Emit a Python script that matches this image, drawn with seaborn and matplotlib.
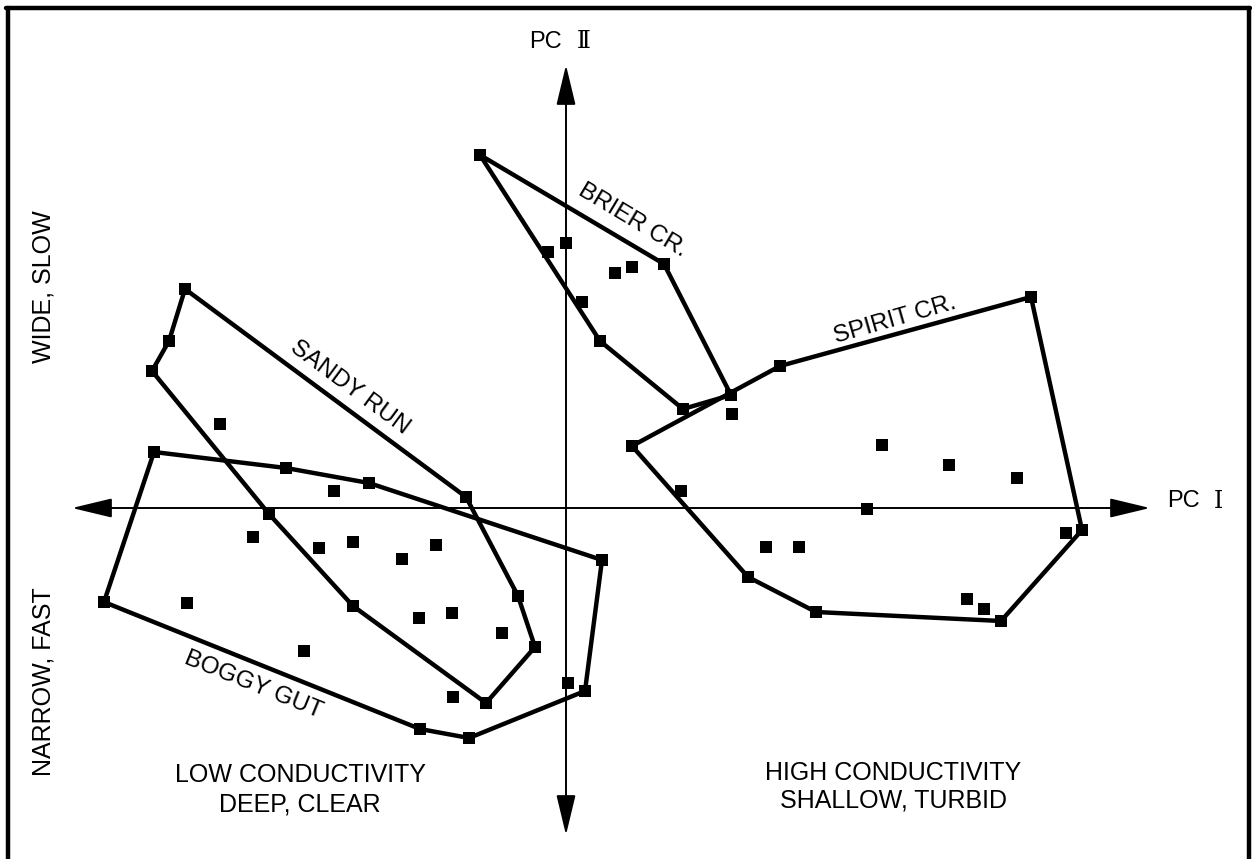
import numpy as np
import pandas as pd
import seaborn as sns
import matplotlib.pyplot as plt
from matplotlib.lines import Line2D

# PCA scores (PC I, PC II)
brier_x = [-0.86, -0.18, 0.00, 0.16, 0.34, 0.49, 0.66, 0.98, 1.17, 1.65]
brier_y = [3.53, 2.56, 2.65, 2.06, 1.67, 2.35, 2.41, 2.44, 0.99, 1.13]
brier_hull = [0, 7, 9, 8, 4]

spirit_x = [0.66, 2.14, 4.65, 1.66, 3.16, 3.83, 4.51, 1.15, 3.01, 5.16, 5.00, 2.00, 2.33, 1.82, 2.50, 4.01, 4.18, 4.35]
spirit_y = [0.62, 1.42, 2.11, 0.94, 0.63, 0.43, 0.30, 0.17, -0.01, -0.22, -0.25, -0.39, -0.39, -0.69, -1.04, -0.91, -1.01, -1.13]
spirit_hull = [0, 1, 2, 9, 17, 14, 13]

sandy_x = [-3.81, -3.97, -4.14, -3.46, -1.00, -2.97, -2.13, -0.48, -0.31, -0.80, -2.32, -2.47, -2.13, -1.30, -1.14, -0.64]
sandy_y = [2.19, 1.67, 1.37, 0.84, 0.11, -0.06, -0.98, -0.88, -1.39, -1.95, 0.17, -0.40, -0.34, -0.37, -1.05, -1.25]
sandy_hull = [0, 4, 7, 8, 9, 6, 5, 2, 1]

boggy_x = [-4.12, -2.80, -1.97, 0.36, 0.19, -0.97, -1.46, -4.62, -3.79, -2.62, -3.13, -1.13, 0.02, -1.64, -1.47]
boggy_y = [0.56, 0.40, 0.25, -0.52, -1.83, -2.30, -2.21, -0.94, -0.95, -1.43, -0.29, -1.89, -1.75, -0.51, -1.10]
boggy_hull = [0, 1, 2, 3, 4, 5, 6, 7]

creeks = {
    "BRIER CR.": (brier_x, brier_y, brier_hull),
    "SPIRIT CR.": (spirit_x, spirit_y, spirit_hull),
    "SANDY RUN": (sandy_x, sandy_y, sandy_hull),
    "BOGGY GUT": (boggy_x, boggy_y, boggy_hull),
}
# label placement (x, y, rotation)
label_pos = {
    "BRIER CR.": (0.67, 2.88, -31),
    "SPIRIT CR.": (3.29, 1.88, 16),
    "SANDY RUN": (-2.16, 1.20, -36.5),
    "BOGGY GUT": (-3.13, -1.77, -22),
}

sns.set_style("white")
plt.rcParams['font.family'] = ['Liberation Sans', 'DejaVu Sans']
plt.rcParams['text.color'] = 'black'

fig = plt.figure(figsize=(12.52, 8.59), dpi=100)
ax = fig.add_axes([0, 0, 1, 1])
ax.set_xlim(-5.66, 6.86)
ax.set_ylim(-3.51, 5.08)
ax.set_aspect('equal')
ax.axis('off')

# PC axes with arrows
arrow = dict(arrowstyle='<|-|>,head_length=1.25,head_width=0.3', color='black', lw=1.4,
             mutation_scale=20, shrinkA=0, shrinkB=0)
ax.annotate('', xy=(-4.94, 0.0), xytext=(5.84, 0.0), arrowprops=arrow)
ax.annotate('', xy=(0.0, 4.43), xytext=(0.0, -3.27), arrowprops=arrow)

for name, (xs, ys, hull) in creeks.items():
    df = pd.DataFrame({'pc1': xs, 'pc2': ys})
    ring = df.iloc[hull + [hull[0]]].reset_index(drop=True)
    sns.lineplot(data=ring, x='pc1', y='pc2', sort=False, estimator=None,
                 color='black', lw=3.2, ax=ax)
    sns.scatterplot(data=df, x='pc1', y='pc2', marker='s', s=85, color='black',
                    edgecolor='black', linewidth=0, ax=ax, zorder=5)
    lx, ly, rot = label_pos[name]
    ax.text(lx, ly, name, rotation=rot, rotation_mode='anchor', ha='center',
            va='center', fontsize=17.5)

ax.set_xlabel('')
ax.set_ylabel('')

# axis names: "PC" plus a serifed roman numeral
ax.text(-0.04, 4.66, 'PC', ha='right', va='center', fontsize=17)
ax.text(0.18, 4.66, 'Ⅱ', ha='center', va='center', fontsize=17, family='DejaVu Serif')
ax.text(6.01, 0.07, 'PC', ha='left', va='center', fontsize=17)
ax.text(6.52, 0.07, 'Ⅰ', ha='center', va='center', fontsize=17, family='DejaVu Serif')

ax.text(-5.23, 2.21, 'WIDE, SLOW', rotation=90, ha='center', va='center', fontsize=18)
ax.text(-5.23, -1.74, 'NARROW, FAST', rotation=90, ha='center', va='center', fontsize=18)
ax.text(-2.66, -2.82, 'LOW CONDUCTIVITY\nDEEP, CLEAR', ha='center', va='center',
        fontsize=18, linespacing=1.3)
ax.text(3.27, -2.79, 'HIGH CONDUCTIVITY\nSHALLOW, TURBID', ha='center', va='center',
        fontsize=18, linespacing=1.2)

# frame (left, top, right; open at the bottom)
W, H = 1252, 859
fx = lambda px: px / W
fy = lambda py: 1 - py / H
frame = [((8, 8), (8, 859)), ((6, 8), (1250, 8)), ((1249, 8), (1249, 859))]
for (x0, y0), (x1, y1) in frame:
    fig.add_artist(Line2D([fx(x0), fx(x1)], [fy(y0), fy(y1)], color='black', lw=3.2))

fig.savefig('out.png', dpi=100, facecolor='white')
